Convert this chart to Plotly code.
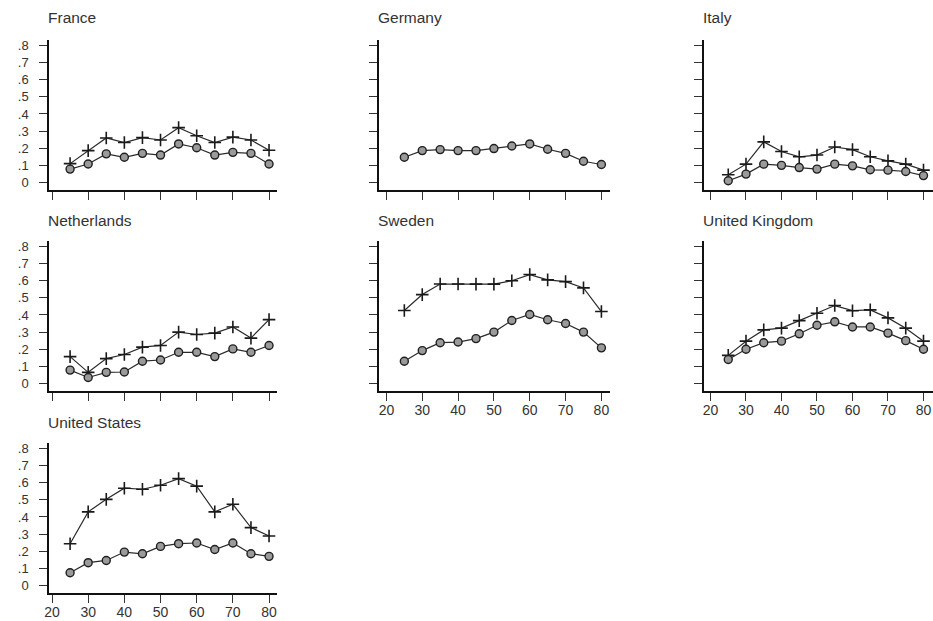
import plotly.graph_objects as go

# Age groups on the horizontal axis
ages = [25, 30, 35, 40, 45, 50, 55, 60, 65, 70, 75, 80]

# Two series per country: "plus" markers and "circle" markers
france_plus   = [0.11, 0.186, 0.26, 0.233, 0.262, 0.248, 0.32, 0.273, 0.233, 0.265, 0.248, 0.188]
france_circle = [0.078, 0.108, 0.167, 0.147, 0.17, 0.16, 0.225, 0.203, 0.16, 0.176, 0.17, 0.108]

germany_plus   = [None] * 12
germany_circle = [0.147, 0.186, 0.192, 0.186, 0.186, 0.198, 0.213, 0.225, 0.194, 0.17, 0.124, 0.105]

italy_plus   = [0.045, 0.107, 0.237, 0.181, 0.15, 0.16, 0.207, 0.192, 0.15, 0.126, 0.107, 0.072]
italy_circle = [0.01, 0.049, 0.107, 0.10, 0.087, 0.078, 0.107, 0.097, 0.074, 0.072, 0.064, 0.04]

netherlands_plus   = [0.157, 0.065, 0.145, 0.169, 0.212, 0.222, 0.30, 0.286, 0.294, 0.33, 0.265, 0.373]
netherlands_circle = [0.078, 0.035, 0.065, 0.067, 0.13, 0.137, 0.182, 0.182, 0.157, 0.202, 0.182, 0.222]

sweden_plus   = [0.426, 0.519, 0.581, 0.581, 0.58, 0.58, 0.60, 0.636, 0.605, 0.595, 0.558, 0.42]
sweden_circle = [0.13, 0.192, 0.238, 0.242, 0.262, 0.30, 0.368, 0.403, 0.372, 0.35, 0.30, 0.208]

uk_plus   = [0.164, 0.247, 0.313, 0.323, 0.367, 0.41, 0.455, 0.425, 0.43, 0.383, 0.323, 0.247]
uk_circle = [0.14, 0.20, 0.238, 0.247, 0.29, 0.34, 0.36, 0.33, 0.33, 0.294, 0.25, 0.20]

us_plus   = [0.244, 0.43, 0.503, 0.568, 0.562, 0.585, 0.624, 0.58, 0.43, 0.474, 0.338, 0.289]
us_circle = [0.074, 0.133, 0.146, 0.195, 0.185, 0.228, 0.244, 0.248, 0.21, 0.248, 0.185, 0.17]

# Tick labels
x_ticks = [20, 30, 40, 50, 60, 70, 80]
y_ticks = [0, 0.1, 0.2, 0.3, 0.4, 0.5, 0.6, 0.7, 0.8]
y_tick_text = ["0", ".1", ".2", ".3", ".4", ".5", ".6", ".7", ".8"]

panels = [
    ("France", 0, 0, france_plus, france_circle),
    ("Germany", 0, 1, germany_plus, germany_circle),
    ("Italy", 0, 2, italy_plus, italy_circle),
    ("Netherlands", 1, 0, netherlands_plus, netherlands_circle),
    ("Sweden", 1, 1, sweden_plus, sweden_circle),
    ("United Kingdom", 1, 2, uk_plus, uk_circle),
    ("United States", 2, 0, us_plus, us_circle),
]

W, H = 933, 621
# pixel layout of each column / row plot area
col_px = [(49, 277), (379, 610), (704, 933)]
col_range = [[19.17, 82.2], [17.93, 82.4], [18.17, 82.68]]
row_px = [(40, 190), (241, 391), (443, 593)]
y_range = [-0.044, 0.832]
title_y = [17, 220, 422]
# panels that carry x tick labels (bottom of each column)
x_labelled = {"Sweden", "United Kingdom", "United States"}

FONT = "Liberation Sans, Arial, sans-serif"
LINE = "#2a2a2a"

fig = go.Figure()
annotations = []

for i, (name, r, c, plus, circ) in enumerate(panels, start=1):
    xa = "x" if i == 1 else f"x{i}"
    ya = "y" if i == 1 else f"y{i}"
    fig.add_trace(go.Scatter(
        x=ages, y=plus, mode="lines+markers", xaxis=xa, yaxis=ya,
        line=dict(color=LINE, width=1.2),
        marker=dict(symbol="cross-thin", size=9,
                    line=dict(color="#1a1a1a", width=1.6)),
        showlegend=False, hoverinfo="x+y",
    ))
    fig.add_trace(go.Scatter(
        x=ages, y=circ, mode="lines+markers", xaxis=xa, yaxis=ya,
        line=dict(color=LINE, width=1.2),
        marker=dict(symbol="circle", size=8, color="#9a9a9a",
                    line=dict(color="#1f1f1f", width=1.4)),
        showlegend=False, hoverinfo="x+y",
    ))

    x0, x1 = col_px[c]
    y0, y1 = row_px[r]
    common = dict(showline=True, linecolor="#111", linewidth=1.5,
                  ticks="outside", tickwidth=1.2, tickcolor="#333",
                  showgrid=False, zeroline=False, fixedrange=True,
                  automargin=False, ticklabeloverflow="allow")
    fig.layout[f"xaxis{'' if i == 1 else i}"] = dict(
        domain=[x0 / W, min(x1 / W, 1.0)], range=col_range[c],
        anchor=ya, tickvals=x_ticks, showticklabels=name in x_labelled,
        ticklen=8, ticklabelstandoff=-3,
        tickfont=dict(family=FONT, size=14, color="#333"), **common)
    fig.layout[f"yaxis{'' if i == 1 else i}"] = dict(
        domain=[1 - y1 / H, 1 - y0 / H], range=y_range,
        anchor=xa, tickvals=y_ticks, ticktext=y_tick_text,
        showticklabels=(c == 0), ticklabelstandoff=8, ticklen=8,
        tickfont=dict(family=FONT, size=13, color="#333"), **common)

    annotations.append(dict(
        text=name, xref="paper", yref="paper",
        x=(x0 - 3) / W, y=1 - title_y[r] / H,
        xanchor="left", yanchor="middle", showarrow=False,
        font=dict(family=FONT, size=15.5, color="#333")))

fig.update_layout(
    template="none",
    width=W, height=H, margin=dict(l=0, r=0, t=0, b=0),
    paper_bgcolor="white", plot_bgcolor="white",
    annotations=annotations,
)

fig.write_html("out.html")
